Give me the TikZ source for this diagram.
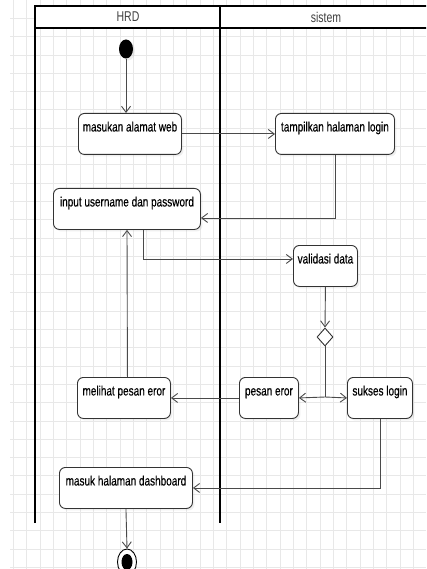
\documentclass[tikz,border=0pt]{standalone}
\usepackage{fontspec}
\setmainfont{Liberation Sans}
\newfontfamily\boxfont[FakeBold=0.6]{Liberation Sans}
\usetikzlibrary{arrows.meta,shapes.geometric,shadows,calc}
\newcommand{\tallt}[1]{\scalebox{1}[1.35]{#1}}
\definecolor{gridc}{HTML}{E8E8E8}
\definecolor{edgec}{HTML}{4A4A4A}
\definecolor{boxc}{HTML}{333333}
\tikzset{
  gridline/.style={draw=gridc, line width=0.7pt},
  lane/.style={draw=black, line width=1.8pt},
  actbox/.style={draw=boxc, line width=0.9pt, rounded corners=6pt, fill=white,
    inner xsep=0pt, inner ysep=0pt, minimum height=41pt,
    text height=18pt, text depth=23pt, anchor=north west,
    font=\boxfont\fontsize{10}{12}\selectfont, text=black,
    drop shadow={shadow xshift=2pt, shadow yshift=-2pt, opacity=0.12}},
  flow/.style={draw=edgec, line width=0.9pt,
    -{Straight Barb[length=6pt,width=9pt,line width=0.9pt]}},
  plainflow/.style={draw=edgec, line width=0.9pt},
  lanetitle/.style={font=\fontsize{10.5}{12}\selectfont, text=black!75}
}
\begin{document}
\begin{tikzpicture}[x=1pt,y=-1pt]
\useasboundingbox (0,0) rectangle (426,569);
\clip (0,0) rectangle (426,569);
\fill[white] (0,0) rectangle (426,569);

% background grid
\foreach \i in {1,...,31} \draw[gridline] ({13.333*\i},0) -- ({13.333*\i},569);
\foreach \j in {1,...,31} \draw[gridline] (10,{18.3*\j}) -- (426,{18.3*\j});

% swimlanes
\fill[white] (35,6) rectangle (440,28);
\draw[lane] (35,523) -- (35,6) -- (440,6);
\draw[lane] (35,28) -- (440,28);
\draw[lane] (220,6) -- (220,523);
\node[lanetitle] (hrd) at (128,17) {\tallt{HRD}};
\node[lanetitle] (sis) at (326,17) {\tallt{sistem}};

% start and end
\node[ellipse, fill=black, minimum width=14pt, minimum height=19pt, inner sep=0pt,
  drop shadow={shadow xshift=2pt, shadow yshift=-2pt, opacity=0.12}] (start) at (126,49) {};
\node[ellipse, draw=black, line width=0.9pt, fill=white, minimum width=19pt, minimum height=26pt, inner sep=0pt] (stop) at (127,562) {};
\node[ellipse, fill=black, minimum width=11pt, minimum height=16pt, inner sep=0pt] (stopdot) at (127,562) {};

% activities
\node[actbox, minimum width=103pt] (masukan) at (78,113) {\tallt{masukan alamat web}};
\node[actbox, minimum width=119pt] (tampil) at (275,113) {\tallt{tampilkan halaman login}};
\node[actbox, minimum width=147pt] (input) at (53,188) {\tallt{input username dan password}};
\node[actbox, minimum width=64pt] (valid) at (293,245) {\tallt{validasi data}};
\node[actbox, minimum width=59pt] (pesan) at (239,377) {\tallt{pesan eror}};
\node[actbox, minimum width=65pt] (sukses) at (347,377) {\tallt{sukses login}};
\node[actbox, minimum width=93pt] (melihat) at (77,377) {\tallt{melihat pesan eror}};
\node[actbox, minimum width=133pt] (masuk) at (59,467) {\tallt{masuk halaman dashboard}};

% decision
\node[diamond, draw=boxc, line width=0.9pt, fill=white, minimum width=16pt, minimum height=18pt, inner sep=0pt] (dec) at (325,337) {};
\coordinate (split) at (325,397);

% flows
\draw[flow] (start.south) -- (start.south |- masukan.north);
\draw[flow] (masukan.east) -- (tampil.west);
\draw[flow] (tampil.south) |- ($(input.east)+(0,9)$);
\draw[flow] ($(input.south west)+(90,0)$) |- ($(valid.west)+(0,-7)$);
\draw[flow] (valid.south) -- (dec.north);
\draw[plainflow] (dec.south) -- (split);
\draw[flow] (split) -- (pesan.east);
\draw[flow] (split) -- (sukses.west);
\draw[flow] (pesan.west) -- (melihat.east);
\draw[flow] ($(melihat.north)+(3.5,0)$) -- ($(input.south west)+(74,0)$);
\draw[flow] (sukses.south) |- (masuk.east);
\draw[flow] (masuk.south) -- (stop.north);
\end{tikzpicture}
\end{document}
